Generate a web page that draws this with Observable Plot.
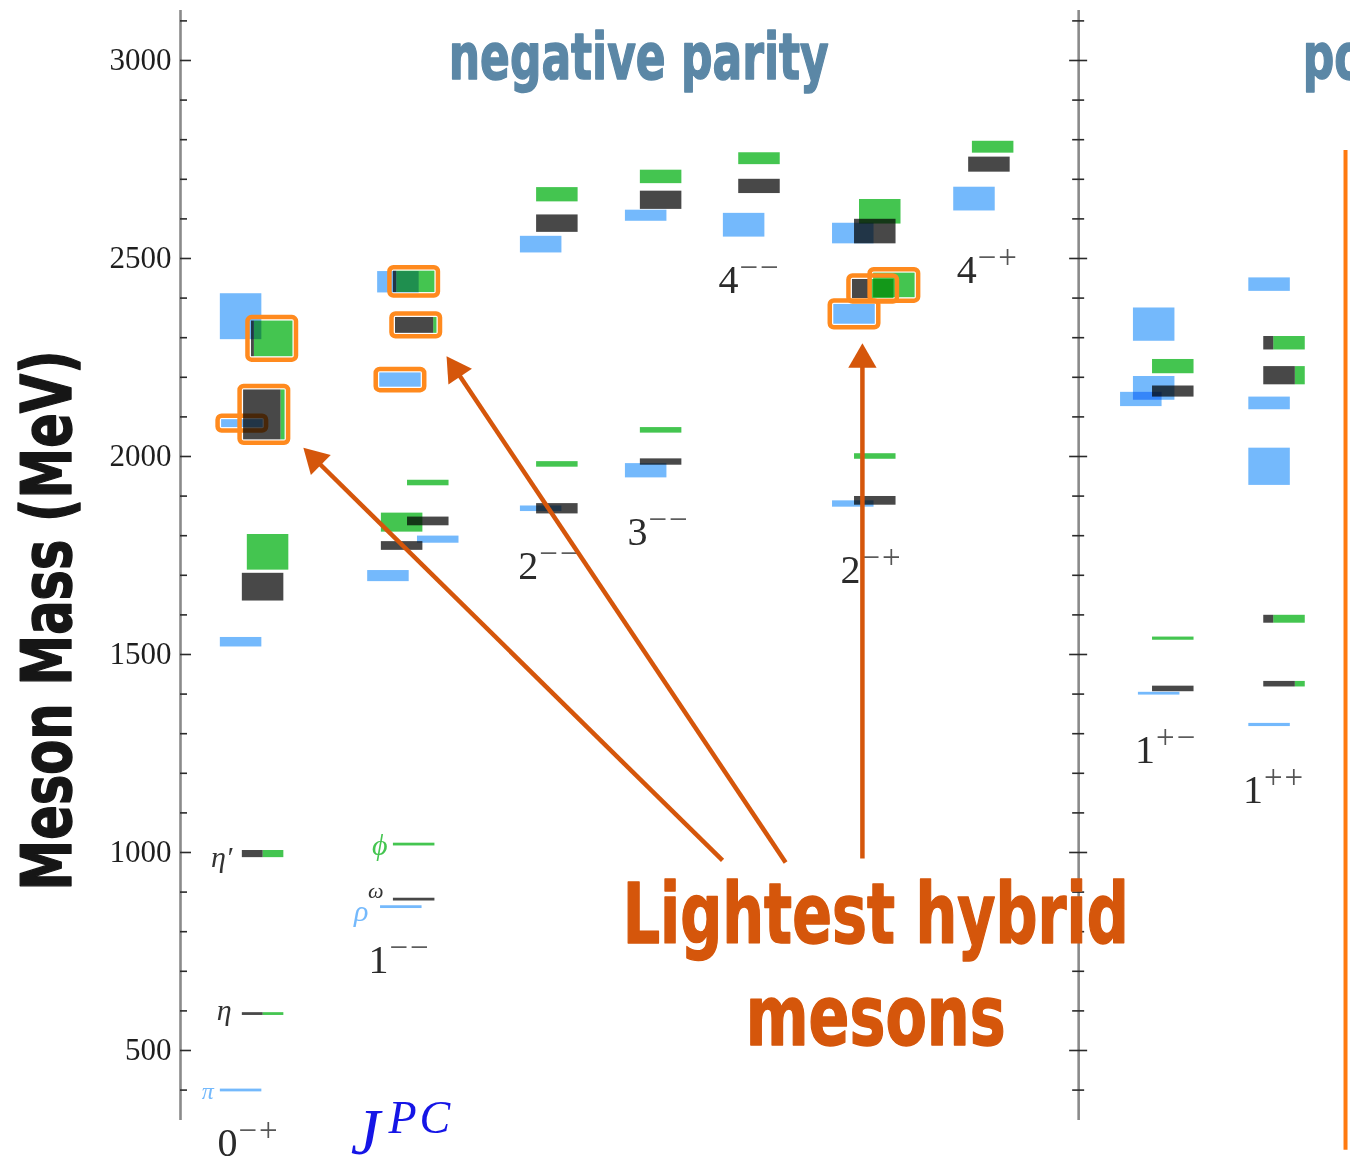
<!DOCTYPE html>
<html><head><meta charset="utf-8">
<script src="https://cdn.jsdelivr.net/npm/d3@7"></script>
<script src="https://cdn.jsdelivr.net/npm/@observablehq/plot@0.6"></script>
<style>
html,body{margin:0;padding:0;background:#fff;}
#chart svg{display:block;}
g[aria-description="states"] rect{mix-blend-mode:multiply;}
g[aria-description="signs"] text{letter-spacing:2px;}
g[aria-description="pc"] text{letter-spacing:3px;}
</style>
</head><body><div id="chart"></div>
<script>
// ---------- DATA ----------
// JPC columns and their labels
const columns   = ["0-+","1--","2--","3--","4--","2-+","4-+","1+-","1++"];
const colDigit  = ["0","1","2","3","4","2","4","1","1"];
const colSigns  = ["−+","−−","−−","−−","−−","−+","−+","+−","++"];
const colLabelX = [0.89, 4.53, 8.14, 10.77, 12.96, 15.90, 18.70, 23.00, 25.60];
const colLabelM = [265, 727, 1722, 1808, 2444, 1712, 2470, 1258, 1157];

// isovector (I=1) states: [JPC, slot, mass MeV, half-error MeV, hybrid]
const isovector = [
  ["0-+", 0.96, 2353, 58, 0],
  ["0-+", 0.99, 2083, 10, 1],
  ["0-+", 0.96, 1531, 12, 0],
  ["0-+", 0.96,  399, 3.5, 0],
  ["1--", 4.75, 2440, 27, 0],
  ["1--", 4.80, 2193, 18, 1],
  ["1--", 5.71, 1790,  9, 0],
  ["1--", 4.51, 1698, 14, 0],
  ["1--", 4.82,  862, 3.5, 0],
  ["2--", 8.19, 2535, 21, 0],
  ["2--", 8.19, 1868,  7, 0],
  ["3--",10.72, 2608, 14, 0],
  ["3--",10.72, 1964, 18, 0],
  ["4--",13.08, 2584, 30, 0],
  ["2-+",15.71, 2563, 26, 0],
  ["2-+",15.74, 2359, 25, 1],
  ["2-+",15.71, 1880,  8, 0],
  ["4-+",18.63, 2650, 30, 0],
  ["1+-",22.96, 2333, 42, 0],
  ["1+-",22.96, 2172, 30, 0],
  ["1+-",22.65, 2144, 18, 0],
  ["1+-",23.08, 1401, 3.5, 0],
  ["1++",25.74, 2434, 17, 0],
  ["1++",25.74, 2134, 16, 0],
  ["1++",25.74, 1974, 47, 0],
  ["1++",25.74, 1322, 4, 0]
];

// isoscalar (I=0) states: [JPC, slot, mass MeV, half-error MeV, strange fraction, hybrid]
const isoscalar = [
  ["0-+", 1.71, 2297, 45, 0.93, 1],
  ["0-+", 1.52, 2105, 63, 0.10, 1],
  ["0-+", 1.61, 1758, 45, 1.00, 0],
  ["0-+", 1.49, 1670, 35, 0.00, 0],
  ["0-+", 1.49,  996,  9, 0.50, 0],
  ["0-+", 1.49,  592, 3.5, 0.50, 0],
  ["1--", 5.13, 2441, 27, 0.92, 1],
  ["1--", 5.18, 2331, 20, 0.08, 1],
  ["1--", 5.47, 1933,  7, 1.00, 0],
  ["1--", 4.84, 1833, 24, 1.00, 0],
  ["1--", 5.47, 1836, 11, 0.00, 0],
  ["1--", 4.84, 1774, 11, 0.00, 0],
  ["1--", 5.13, 1020, 3.5, 1.00, 0],
  ["1--", 5.13,  881, 3.5, 0.00, 0],
  ["2--", 8.58, 2661, 18, 1.00, 0],
  ["2--", 8.58, 2588, 22, 0.00, 0],
  ["2--", 8.58, 1980,  7, 1.00, 0],
  ["2--", 8.58, 1868, 13, 0.00, 0],
  ["3--",11.08, 2706, 17, 1.00, 0],
  ["3--",11.08, 2647, 23, 0.00, 0],
  ["3--",11.08, 2066,  7, 1.00, 0],
  ["3--",11.08, 1986,  8, 0.00, 0],
  ["4--",13.45, 2752, 15, 1.00, 0],
  ["4--",13.45, 2682, 18, 0.00, 0],
  ["2-+",16.36, 2618, 31, 1.00, 0],
  ["2-+",16.24, 2568, 31, 0.00, 0],
  ["2-+",16.19, 2423, 24, 0.55, 1],
  ["2-+",16.70, 2432, 31, 1.00, 1],
  ["2-+",16.24, 2000,  7, 1.00, 0],
  ["2-+",16.24, 1888, 11, 0.00, 0],
  ["4-+",19.08, 2781, 15, 1.00, 0],
  ["4-+",18.99, 2737, 19, 0.00, 0],
  ["1+-",23.42, 2227, 18, 1.00, 0],
  ["1+-",23.42, 2164, 14, 0.00, 0],
  ["1+-",23.42, 1540,  4, 1.00, 0],
  ["1+-",23.42, 1413,  7, 0.00, 0],
  ["1++",26.10, 2286, 17, 0.76, 0],
  ["1++",26.10, 2204, 23, 0.24, 0],
  ["1++",26.10, 1589, 10, 0.76, 0],
  ["1++",26.10, 1425,  7, 0.24, 0]
];

// ground-state particle names: [name, flavour, slot, mass]
const particleNames = [
  ["η′", "light",   1.25,  987],
  ["η",  "light",   1.23,  601],
  ["π",  "I=1",     0.80,  398],
  ["ϕ",  "strange", 4.99, 1018],
  ["ω",  "light",   4.89,  903],
  ["ρ",  "I=1",     4.53,  851]
];

// axis ticks (MeV)
const majorTicks = [500, 1000, 1500, 2000, 2500, 3000];
const minorTicks = [400,600,700,800,900,1100,1200,1300,1400,1600,1700,1800,1900,2100,2200,2300,2400,2600,2700,2800,2900,3100];
const axisSlots  = [0, 21.64];
const axisRange  = [323, 3126];

// annotations
const headingNeg = ["negative parity", 11.04, 3005];
const headingPos = ["positive parity", 27.04, 3005];
const yTitle = ["Meson Mass (MeV)", 0, 1586];
const calloutLines = [["Lightest hybrid", 16.75, 839], ["mesons", 16.75, 581]];
const arrows = [
  [13.06, 980, 2.96, 2022],
  [14.58, 975, 6.41, 2253],
  [16.43, 985, 16.43, 2286]
];
const hybridBoxEdge = [28.07, 248, 2773];

// ---------- LAYOUT ----------
const W = 1350, H = 1168, ML = 180;
const xDomain = [0, 28.19];
const yDomain = [202, 3151.5];
const kx = (W - ML) / (xDomain[1] - xDomain[0]);
const ky = H / (yDomain[1] - yDomain[0]);

const BLUE = "#74b9fc", BLACK = "#484848", GREEN = "#44c550";
const ORANGE = "#ff8a1e", RED = "#d5560b", TITLE = "#5b87a6", JBLUE = "#1515e6";
const flavourColor = {"I=1": BLUE, "light": "#333", "strange": GREEN};
const SANS_COND = "'Liberation Sans Narrow','DejaVu Sans Condensed','DejaVu Sans',sans-serif";
const SERIF = "'Liberation Serif','DejaVu Serif',serif";

const blueRects = isovector.map(([c, x, m, e, h]) => ({x1: x, x2: x + 1, y1: m - e, y2: m + e, h}));
const isoRects = [];
const isoBoxes = [];
isoscalar.forEach(([c, x, m, e, f, h]) => {
  if (f < 1) isoRects.push({x1: x, x2: x + (1 - f), y1: m - e, y2: m + e, fill: BLACK});
  if (f > 0) isoRects.push({x1: x + (1 - f), x2: x + 1, y1: m - e, y2: m + e, fill: GREEN});
  isoBoxes.push({x1: x, x2: x + 1, y1: m - e, y2: m + e, h});
});

// arrow geometry (pixel-space direction for heads)
const headR = 10.5;
const tipOff = 2 * Math.sqrt(headR * headR * Math.PI / (3 * Math.sqrt(3)));
const arrowData = arrows.map(([x1, y1, x2, y2]) => {
  const dxp = (x2 - x1) * kx, dyp = -(y2 - y1) * ky;
  const L = Math.hypot(dxp, dyp), ux = dxp / L, uy = dyp / L;
  return {x1, y1, x2, y2,
    cx: x2 - ux * tipOff / kx, cy: y2 + uy * tipOff / ky,
    rot: Math.atan2(ux, -uy) * 180 / Math.PI};
});

const tickRules = (ticks, x0, left, right) =>
  Plot.ruleY(ticks, {y: d => d, x1: x0 - left / kx, x2: x0 + right / kx, stroke: "#2a2a2a", strokeWidth: 1.6});

const boldText = (data, opts) => Plot.text(data, {x: d => d[1], y: d => d[2], text: d => d[0],
  fontWeight: "bold", fontFamily: SANS_COND, strokeWidth: 1.4, ...opts});

const chart = Plot.plot({
  width: W, height: H,
  marginLeft: ML, marginRight: 0, marginTop: 0, marginBottom: 0,
  x: {domain: xDomain, axis: null},
  y: {domain: yDomain, axis: null},
  style: {background: "#fff"},
  marks: [
    // axes
    Plot.ruleX(axisSlots, {x: d => d, y1: axisRange[0], y2: axisRange[1], stroke: "#8a8a8a", strokeWidth: 2.6}),
    tickRules(minorTicks, axisSlots[0], 0, 7),
    tickRules(majorTicks, axisSlots[0], 0, 11),
    tickRules(minorTicks, axisSlots[1], 6, 6),
    tickRules(majorTicks, axisSlots[1], 9, 9),
    Plot.text(majorTicks, {x: axisSlots[0], y: d => d, text: d => String(d), dx: -9, textAnchor: "end",
      fontSize: 31, fontFamily: SERIF, fill: "#1e1e1e"}),
    boldText([yTitle], {dx: -132, rotate: -90, fontSize: 70, fill: "#161616", stroke: "#161616", ariaDescription: "ytitle"}),
    // headings
    boldText([headingNeg], {fontSize: 64, fill: TITLE, stroke: TITLE, ariaDescription: "headneg"}),
    boldText([headingPos], {fontSize: 64, fill: TITLE, stroke: TITLE, textAnchor: "start", ariaDescription: "headpos"}),
    // isovector boxes
    Plot.rect(blueRects, {x1: "x1", x2: "x2", y1: "y1", y2: "y2", fill: BLUE, ariaDescription: "states"}),
    Plot.rect(blueRects.filter(d => d.h), {x1: "x1", x2: "x2", y1: "y1", y2: "y2", fill: "none",
      stroke: ORANGE, strokeWidth: 4.5, inset: -3.5, rx: 4}),
    // isoscalar boxes (light / strange split)
    Plot.rect(isoRects, {x1: "x1", x2: "x2", y1: "y1", y2: "y2", fill: "fill", ariaDescription: "states"}),
    Plot.rect(isoBoxes.filter(d => d.h), {x1: "x1", x2: "x2", y1: "y1", y2: "y2", fill: "none",
      stroke: ORANGE, strokeWidth: 4.5, inset: -3.5, rx: 4}),
    // JPC labels
    Plot.text(colDigit, {x: (d, i) => colLabelX[i], y: (d, i) => colLabelM[i], text: d => d,
      textAnchor: "start", fontSize: 40, fontFamily: SERIF, fill: "#2b2b2b"}),
    Plot.text(colSigns, {x: (d, i) => colLabelX[i], y: (d, i) => colLabelM[i], text: d => d,
      dx: 21, dy: -13, textAnchor: "start", fontSize: 33, fontFamily: SERIF, fill: "#555", ariaDescription: "signs"}),
    // particle names
    Plot.text(particleNames, {x: d => d[2], y: d => d[3], text: d => d[0], textAnchor: "end",
      fill: d => flavourColor[d[1]], fontSize: d => d[0] === "ω" ? 22 : (d[0] === "π" ? 24 : 30),
      fontStyle: "italic", fontFamily: SERIF}),
    // J^PC
    Plot.text(["J"], {x: 4.10, y: 292, text: d => d, textAnchor: "start", fontSize: 66,
      fontStyle: "italic", fontFamily: SERIF, fill: JBLUE}),
    Plot.text(["PC"], {x: 5.01, y: 329, text: d => d, textAnchor: "start", fontSize: 46,
      fontStyle: "italic", fontFamily: SERIF, fill: JBLUE, ariaDescription: "pc"}),
    // positive-parity hybrid box edge
    Plot.ruleX([hybridBoxEdge], {x: d => d[0], y1: d => d[1], y2: d => d[2], stroke: "#ff7a10", strokeWidth: 4}),
    // arrows
    Plot.link(arrowData, {x1: "x1", y1: "y1", x2: "cx", y2: "cy", stroke: RED, strokeWidth: 4.5}),
    Plot.dot(arrowData, {x: "cx", y: "cy", symbol: "triangle", r: headR, rotate: "rot", fill: RED, stroke: "none"}),
    // callout
    boldText(calloutLines, {fontSize: 83, fill: RED, stroke: RED, ariaDescription: "callout"})
  ]
});
document.getElementById("chart").appendChild(chart);

// fit the condensed display type to the widths it has in the figure
const sel = lbl => Array.from(chart.querySelectorAll(`g[aria-description="${lbl}"] text`));
const fit = (el, len) => { if (!el) return; el.setAttribute("textLength", len); el.setAttribute("lengthAdjust", "spacingAndGlyphs"); };
const negEl = sel("headneg")[0], posEl = sel("headpos")[0];
if (negEl && posEl) {
  const ratio = 380 / negEl.getComputedTextLength();
  fit(posEl, posEl.getComputedTextLength() * ratio);
}
fit(negEl, 380);
fit(sel("ytitle")[0], 540);
const co = sel("callout");
fit(co[0], 506);
fit(co[1], 260);
</script>
</body></html>
